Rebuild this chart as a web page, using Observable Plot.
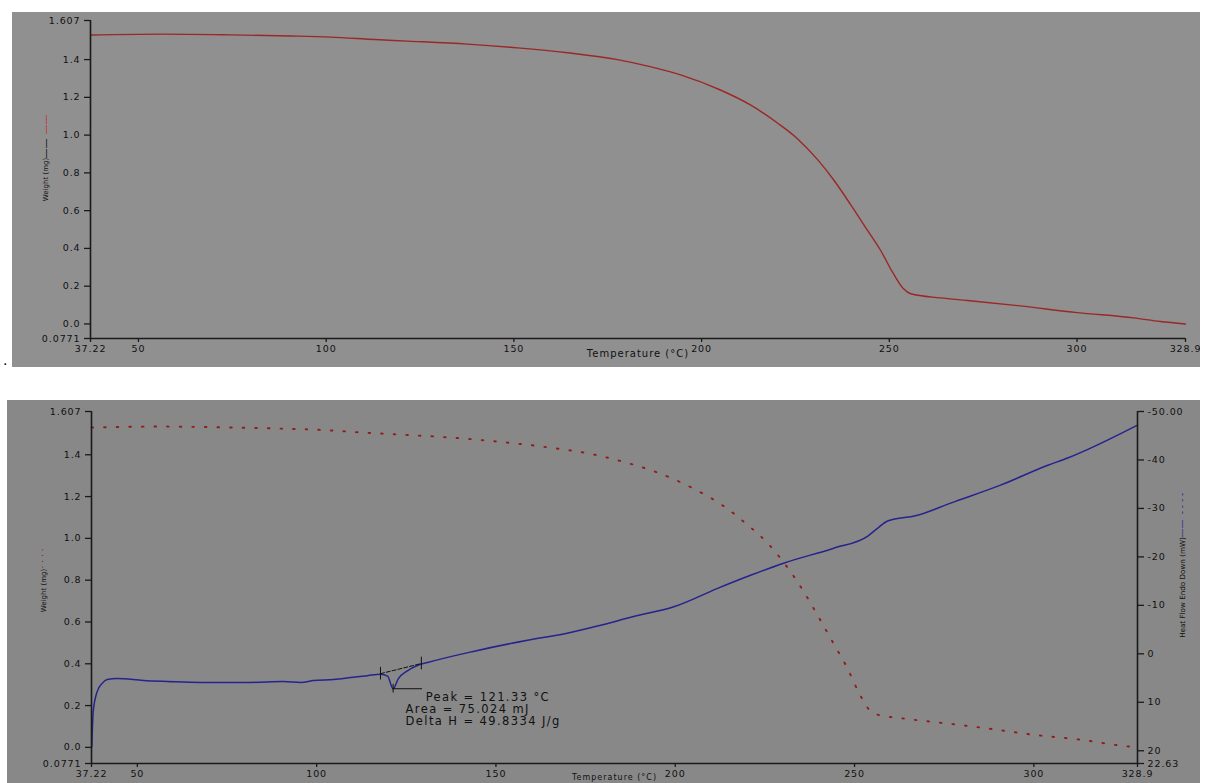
<!DOCTYPE html>
<html><head><meta charset="utf-8">
<script src="https://cdn.jsdelivr.net/npm/d3@7"></script>
<script src="https://cdn.jsdelivr.net/npm/@observablehq/plot@0.6"></script>
<style>
html,body{margin:0;padding:0;background:#fff;width:1210px;height:783px;overflow:hidden;position:relative;font-family:"DejaVu Sans",sans-serif;}
#topPanel{position:absolute;left:12px;top:12px;}
#botPanel{position:absolute;left:7px;top:400px;}
#dot{position:absolute;left:3px;top:352px;font-size:14px;color:#000;}
</style></head><body>
<div id="dot">.</div>
<div id="topPanel"></div>
<div id="botPanel"></div>
<script>
// TGA: weight (mg) vs temperature (°C)
const tempTGA = [37.22, 55.9, 74.5, 90.5, 101.1, 113.1, 121.7, 137.6, 151.0, 164.3, 177.6, 186.0, 194.4, 205.0, 213.0, 220.2, 225.6, 230.9, 235.1, 239.7, 244.2, 247.7, 251.1, 253.8, 255.7, 263.6, 270.8, 284.2, 300.1, 315.1, 322.2, 328.9];
const weightTGA = [1.530, 1.535, 1.531, 1.525, 1.519, 1.506, 1.498, 1.482, 1.462, 1.436, 1.400, 1.364, 1.319, 1.239, 1.160, 1.064, 0.980, 0.870, 0.765, 0.632, 0.495, 0.389, 0.266, 0.186, 0.160, 0.138, 0.124, 0.097, 0.060, 0.032, 0.013, 0.000];
// DSC: heat flow endo down (mW) vs temperature (°C)
const tempDSC = [37.3, 37.7, 38.8, 40.2, 41.6, 44.4, 51.7, 58.4, 67.6, 81.5, 90.7, 95.6, 99.2, 104.8, 109.5, 114.2, 117.8, 119.8, 121.3, 122.8, 125.3, 128.1, 130.9, 143.7, 158.8, 168.9, 179.2, 188.4, 199.6, 211.8, 221.0, 230.2, 244.2, 253.7, 256.4, 259.2, 267.6, 276.8, 290.7, 303.9, 309.4, 328.9];
const heatFlowDSC = [19.2, 11.9, 7.8, 6.1, 5.3, 5.1, 5.5, 5.7, 5.9, 5.9, 5.7, 5.9, 5.5, 5.3, 4.9, 4.5, 4.2, 4.6, 7.2, 5.1, 3.5, 2.4, 1.8, -0.5, -2.8, -4.1, -5.9, -7.7, -9.7, -13.5, -16.2, -18.7, -21.8, -24.3, -25.9, -27.4, -28.6, -31.1, -34.8, -38.9, -40.4, -47.2];
// Peak integration
const peakBaselineTemp = [117.8, 129.2];
const peakBaselineHF = [4.1, 2.0];
const peakTemp = 121.33;
const peakHF = 7.2;
const peakLabels = ["Peak = 121.33 °C", "Area = 75.024 mJ", "Delta H = 49.8334 J/g"];
// Axes
const xDomain = [37.22, 328.9];
const xTicks = [37.22, 50, 100, 150, 200, 250, 300, 328.9];
const xTickLabels = ["37.22", "50", "100", "150", "200", "250", "300", "328.9"];
const wDomain = [-0.0771, 1.607];
const wTicks = [1.607, 1.4, 1.2, 1.0, 0.8, 0.6, 0.4, 0.2, 0.0, -0.0771];
const wTickLabels = ["1.607", "1.4", "1.2", "1.0", "0.8", "0.6", "0.4", "0.2", "0.0", "0.0771"];
const hfDomain = [22.63, -50];
const hfTicks = [-50, -40, -30, -20, -10, 0, 10, 20, 22.63];
const hfTickLabels = ["-50.00", "-40", "-30", "-20", "-10", "0", "10", "20", "22.63"];
const xTitle = "Temperature (°C)";

const tga = tempTGA.map((t, i) => ({t, w: weightTGA[i]}));
const dsc = tempDSC.map((t, i) => ({t, hf: heatFlowDSC[i]}));
const baseline = peakBaselineTemp.map((t, i) => ({t, hf: peakBaselineHF[i]}));
const toW = d3.scaleLinear(hfDomain, wDomain);
const hfTicksW = hfTicks.map(toW);

const axisColor = "#1a1a1a";
const redLine = "#9c2727";
const blueLine = "#24248c";
const styleBase = {fontFamily: "DejaVu Sans", fontSize: "9.5px", color: "#111"};

const xAxis = () => Plot.axisX(xTicks, {tickFormat: d => xTickLabels[xTicks.indexOf(d)], tickSize: 4, tickPadding: 3, label: null, stroke: axisColor, strokeWidth: 1.3});
const yAxisLeft = () => Plot.axisY(wTicks, {anchor: "left", tickFormat: d => wTickLabels[wTicks.indexOf(d)], tickSize: 6, tickPadding: 4, label: null, stroke: axisColor, strokeWidth: 1.3});
const vlabel = (txt, anchor, dx, dy, size, fill) =>
  Plot.text([txt], {frameAnchor: anchor, textAnchor: "middle", dx, dy, rotate: -90, fontSize: size, fill});

// widen the typewriter-like labels a little, as in the reference
const tickSet = new Set([...xTickLabels, ...wTickLabels, ...hfTickLabels]);
function spaceText(svg) {
  svg.querySelectorAll("text").forEach(el => {
    const s = el.textContent;
    if (tickSet.has(s)) el.setAttribute("letter-spacing", "0.9");
    else if (peakLabels.includes(s)) el.setAttribute("letter-spacing", "1.4");
    else if (s === xTitle) el.setAttribute("letter-spacing", "1");
  });
  return svg;
}

// ---------- Top panel ----------
const topChart = Plot.plot({
  width: 1188, height: 355,
  marginLeft: 78, marginRight: 15, marginTop: 8, marginBottom: 29,
  style: {...styleBase, background: "#909090"},
  x: {domain: xDomain},
  y: {domain: wDomain},
  marks: [
    Plot.line(tga, {x: "t", y: "w", stroke: redLine, strokeWidth: 1.4, curve: "monotone-x"}),
    Plot.ruleX([xDomain[0]], {stroke: axisColor, strokeWidth: 1.6}),
    Plot.ruleY([wDomain[0]], {stroke: axisColor, strokeWidth: 1.6}),
    xAxis(),
    yAxisLeft(),
    Plot.text([xTitle], {frameAnchor: "bottom", textAnchor: "middle", dy: 18, fontSize: 10, fill: "#111"}),
    vlabel("Weight (mg)", "left", -45, 0, 7, "#111"),
    vlabel("——", "left", -45, -31, 10, "#111"),
    vlabel("——", "left", -45, -55, 10, "#c0303a")
  ]
});
document.getElementById("topPanel").append(spaceText(topChart));

// ---------- Bottom panel ----------
const botChart = Plot.plot({
  width: 1193, height: 383,
  marginLeft: 84, marginRight: 63, marginTop: 11, marginBottom: 20,
  style: {...styleBase, background: "#888888"},
  x: {domain: xDomain},
  y: {domain: wDomain},
  marks: [
    Plot.line(tga, {x: "t", y: "w", stroke: "#8e1d1d", strokeWidth: 1.9, strokeDasharray: "1.6,11", curve: "monotone-x"}),
    Plot.line(dsc, {x: "t", y: d => toW(d.hf), stroke: blueLine, strokeWidth: 1.5, curve: "monotone-x"}),
    Plot.line(baseline, {x: "t", y: d => toW(d.hf), stroke: "#111", strokeWidth: 1, strokeDasharray: "4,2"}),
    Plot.ruleX(baseline, {x: "t", y1: d => toW(d.hf - 1.3), y2: d => toW(d.hf + 1.3), stroke: "#111", strokeWidth: 1}),
    Plot.ruleX([{t: peakTemp, hf: peakHF}], {x: "t", y1: d => toW(d.hf - 0.9), y2: d => toW(d.hf + 0.9), stroke: "#111", strokeWidth: 1}),
    Plot.ruleY([{t: peakTemp, hf: peakHF}], {y: d => toW(d.hf), x1: "t", x2: d => d.t + 8.2, stroke: "#111", strokeWidth: 1}),
    Plot.text(peakLabels, {x: [130.4, 124.8, 124.8], y: [9.0, 11.5, 14.0].map(toW), text: d => d, textAnchor: "start", fontSize: 11.5, fill: "#111"}),
    Plot.ruleX([xDomain[0]], {stroke: axisColor, strokeWidth: 1.6}),
    Plot.ruleX([xDomain[1]], {stroke: axisColor, strokeWidth: 1.6}),
    Plot.ruleY([wDomain[0]], {stroke: axisColor, strokeWidth: 1.6}),
    xAxis(),
    yAxisLeft(),
    Plot.axisY(hfTicksW, {anchor: "right", tickFormat: d => hfTickLabels[hfTicksW.indexOf(d)], tickSize: 6, tickPadding: 4, label: null, stroke: axisColor, strokeWidth: 1.3}),
    Plot.text([xTitle], {frameAnchor: "bottom", textAnchor: "middle", dy: 16, lineAnchor: "bottom", fontSize: 8, fill: "#111"}),
    vlabel("Weight (mg)", "left", -48, 3, 7, "#111"),
    vlabel("· · · ·", "left", -48, -29, 9, "#7a1a1a"),
    vlabel("Heat Flow Endo Down (mW)", "right", 45, 0, 7.2, "#111"),
    vlabel("——", "right", 45, -59, 9, blueLine),
    vlabel("- - - -", "right", 45, -84, 9, blueLine)
  ]
});
document.getElementById("botPanel").append(spaceText(botChart));
</script>
</body></html>
